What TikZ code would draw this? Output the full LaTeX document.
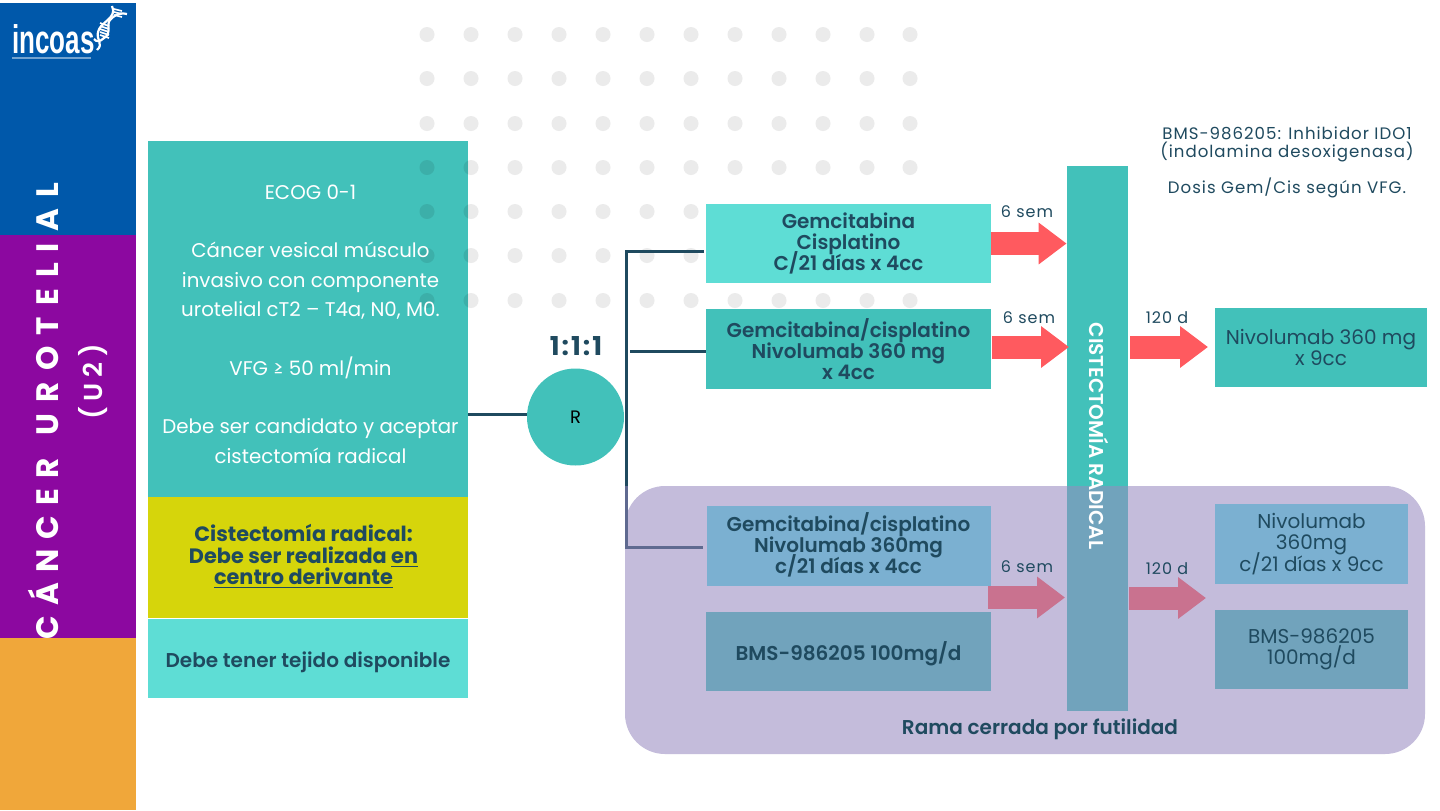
\documentclass[tikz,border=0pt]{standalone}
\usepackage{fontspec}
\setmainfont{Poppins}
\newfontfamily\medfont{Poppins SemiBold}
\newfontfamily\logofont{Liberation Sans Bold}[FakeStretch=0.65]
\usetikzlibrary{arrows.meta}
\definecolor{bandblue}{RGB}{0,88,170}
\definecolor{bandpurple}{RGB}{140,8,160}
\definecolor{bandorange}{RGB}{240,167,58}
\definecolor{tealbox}{HTML}{42C1BA}
\definecolor{lightbox}{HTML}{5EDDD5}
\definecolor{yellowbox}{HTML}{D6D50B}
\definecolor{darktxt}{HTML}{1F4A5F}
\definecolor{bluebox}{HTML}{7BB0D1}
\definecolor{greybox}{HTML}{71A3BC}
\definecolor{lilac}{HTML}{C4BCDB}
\definecolor{redarr}{HTML}{FF5A5F}
\definecolor{pinkarr}{HTML}{C9728F}
\definecolor{mutedline}{HTML}{5F6A90}
\tikzset{
  every node/.append style={execute at begin node={\lineskiplimit=-20pt}},
  blockbox/.style={inner sep=0pt,align=center,text=darktxt,font=\fontsize{10}{10.6}\selectfont},
  boldtxt/.style={inner sep=0pt,text=darktxt,align=center,font=\fontsize{10}{10.6}\selectfont\medfont},
  lbl/.style={text=darktxt,font=\fontsize{8}{9}\selectfont\addfontfeature{LetterSpace=6}},
  redarrow/.style={draw=redarr,line width=11.5pt,-{Triangle[width=20pt,length=14pt]}},
  pinkarrow/.style={draw=pinkarr,line width=11.5pt,-{Triangle[width=20pt,length=14pt]}},
  link/.style={draw=darktxt,line width=1.5pt},
}
\begin{document}
\begin{tikzpicture}[x=0.5pt,y=-0.5pt]
\useasboundingbox (0,0) rectangle (1440,810);
% side band
\fill[white] (0,0) rectangle (1440,810);
\fill[bandblue] (0,3) rectangle (135.5,235);
\fill[bandpurple] (0,235) rectangle (135.5,638);
\fill[bandorange] (0,638) rectangle (135.5,810);
\node[rotate=90,anchor=west,text=white,inner sep=0pt,font=\fontsize{15.5}{16}\selectfont\bfseries\addfontfeature{LetterSpace=33}] (bandtitle) at (43,640) {CÁNCER\hspace{3pt} {\addfontfeature{LetterSpace=36}UROTELIAL}};
\node[rotate=90,text=white,inner sep=0pt,font=\fontsize{13}{14}\selectfont\medfont\addfontfeature{LetterSpace=22}] (bandcode) at (93,382) {(U2)};
% logo
\node[anchor=base west,text=white,inner sep=0pt,font=\fontsize{20}{21}\selectfont\logofont] (logo) at (12,53) {incoas};
\fill[white!45!bandblue] (12,56.5) rectangle (91,58.5);
\draw[white,line width=1.1pt] (112,6) .. controls (118,18) and (100,22) .. (98,32) .. controls (96,40) and (104,44) .. (97,50);
\draw[white,line width=1.1pt] (127,14) .. controls (118,12) and (114,16) .. (110,20) .. controls (106,24) and (112,34) .. (104,38) .. controls (100,42) and (96,42) .. (94,39);
\foreach \rungy in {23,26,29,32,35} \draw[white,line width=.8pt] (100,\rungy) -- (109,\rungy+3);
\foreach \rungy in {9,12,15} \draw[white,line width=.8pt] (114,\rungy) -- (122,\rungy+2);
% dots
\foreach \dotx in {427,471,515,559,603,647,691,735,779,823,867,910}
  \foreach \doty in {34.5,78.5,123.5,167.5,211.5,255.5,300.5}
    \fill[white!92!black] (\dotx,\doty) circle (7.5);
% left column
\node[blockbox,fill=tealbox,minimum width=160pt,minimum height=178pt] (elig) at (308,319) {};
\begin{scope}
  \clip (148,141) rectangle (468,497);
  \foreach \dotx in {427,471}
    \foreach \doty in {167.5,211.5,255.5,300.5}
      \fill[black,opacity=.09] (\dotx,\doty) circle (7.5);
\end{scope}
\node[text=white,align=center,font=\fontsize{9.9}{14.65}\selectfont] (eligtxt) at (310.5,324) {ECOG 0-1\\[14.65pt]Cáncer vesical músculo\\invasivo con componente\\urotelial cT2 – T4a, N0, M0.\\[14.65pt]VFG ≥ 50 ml/min\\[14.65pt]Debe ser candidato y aceptar\\cistectomía radical};
\node[fill=yellowbox,minimum width=160pt,minimum height=60.5pt,inner sep=0pt] (centro) at (308,557.5) {};
\node[boldtxt,font=\fontsize{10.4}{10.6}\selectfont\bfseries] (centrotxt) at (303.5,556.5) {Cistectomía radical:\\Debe ser realizada \underline{en}\\\underline{centro derivante}};
\node[fill=lightbox,minimum width=160pt,minimum height=39.5pt,inner sep=0pt] (tejido) at (308,658.5) {};
\node[boldtxt] (tejidotxt) at (308,662) {Debe tener tejido disponible};
% random
\node[circle,fill=tealbox,minimum size=48.5pt,inner sep=0pt,font=\fontsize{9}{10}\selectfont] (rand) at (575.5,417) {R};
\node[text=darktxt,inner sep=0pt,font=\fontsize{13}{14}\selectfont\bfseries\addfontfeature{LetterSpace=8}] (ratio) at (576,346) {1:1:1};
% closed arm
\node[fill=lilac,rounded corners=20pt,minimum width=400pt,minimum height=134pt] (closed) at (1025,620) {};
\node[boldtxt] (closedlbl) at (1040,729) {Rama cerrada por futilidad};
% arms
\node[boldtxt,fill=lightbox,minimum width=142.5pt,minimum height=39.5pt] (gem) at (848.5,243.5) {Gemcitabina\\Cisplatino\\C/21 días x 4cc};
\node[boldtxt,fill=tealbox,minimum width=142.5pt,minimum height=40pt] (gemnivo) at (848.5,349) {Gemcitabina/cisplatino\\Nivolumab 360 mg\\x 4cc};
\node[fill=bluebox,minimum width=142pt,minimum height=40pt,inner sep=0pt] (gemnivob) at (849,546) {};
\node[boldtxt] (gemnivotxt) at (848.5,545) {Gemcitabina/cisplatino\\Nivolumab 360mg\\c/21 días x 4cc};
\node[fill=greybox,minimum width=142.5pt,minimum height=39.5pt,inner sep=0pt] (bms) at (848.5,651.5) {};
\node[boldtxt] (bmstxt) at (848.5,653.5) {BMS-986205 100mg/d};
% surgery
\node[fill=tealbox,minimum width=30.5pt,minimum height=272.5pt,inner sep=0pt] (cist) at (1097.5,438.5) {};
\fill[greybox] (1067,486) rectangle (1128,711);
\node[rotate=-90,text=white,inner sep=0pt,font=\fontsize{10}{11}\selectfont\medfont] (cisttxt) at (1099,436) {CISTECTOMÍA RADICAL};
% adjuvant
\node[blockbox,fill=tealbox,minimum width=106pt,minimum height=39.5pt] (nivo) at (1321,347.5) {Nivolumab 360 mg\\x 9cc};
\node[blockbox,fill=bluebox,minimum width=96.5pt,minimum height=40pt] (nivob) at (1311.5,544) {Nivolumab\\360mg\\c/21 días x 9cc};
\node[blockbox,fill=greybox,minimum width=96.5pt,minimum height=39.5pt] (bmsb) at (1311.5,649.5) {BMS-986205\\100mg/d};
% connectors
\coordinate (fork) at (626,414.5);
\coordinate (armone) at (704,251);
\coordinate (armtwo) at (630,351);
\coordinate (armthree) at (703,547);
\coordinate (arrtwo) at (992,347);
\coordinate (arrthree) at (1130,347);
\coordinate (arrfour) at (988,597.5);
\coordinate (arrsix) at (1129,598);
\draw[link] (elig.east |- fork) -- (rand.west |- fork);
\draw[link] (armone) -- (626,251) -- (626,486);
\draw[link] (armtwo) -- (armtwo -| gemnivo.west);
\draw[draw=mutedline,line width=1.5pt] (626,486) -- (626,547) -- (armthree);
\draw[redarrow] (gem.east) -- (gem.east -| cist.west);
\draw[redarrow] (arrtwo) -- (1069,347);
\draw[redarrow] (arrthree) -- (1208,347);
\draw[pinkarrow] (arrfour) -- (1065,597.5);
\draw[pinkarrow] (arrsix) -- (1206,598);
% labels
\node[lbl] (lblone) at (1027,212) {6 sem};
\node[lbl] (lbltwo) at (1029,318) {6 sem};
\node[lbl] (lblthree) at (1167,318) {120 d};
\node[lbl] (lblfour) at (1027,567) {6 sem};
\node[lbl] (lblfive) at (1167,569) {120 d};
\node[text=darktxt,align=center,font=\fontsize{8.3}{9}\selectfont\addfontfeature{LetterSpace=6}] (notes) at (1287,144) {BMS-986205: Inhibidor IDO1\\(indolamina desoxigenasa)};
\node[text=darktxt,font=\fontsize{8.3}{9}\selectfont\addfontfeature{LetterSpace=6}] (dosis) at (1287,187.5) {Dosis Gem/Cis según VFG.};
\end{tikzpicture}
\end{document}
